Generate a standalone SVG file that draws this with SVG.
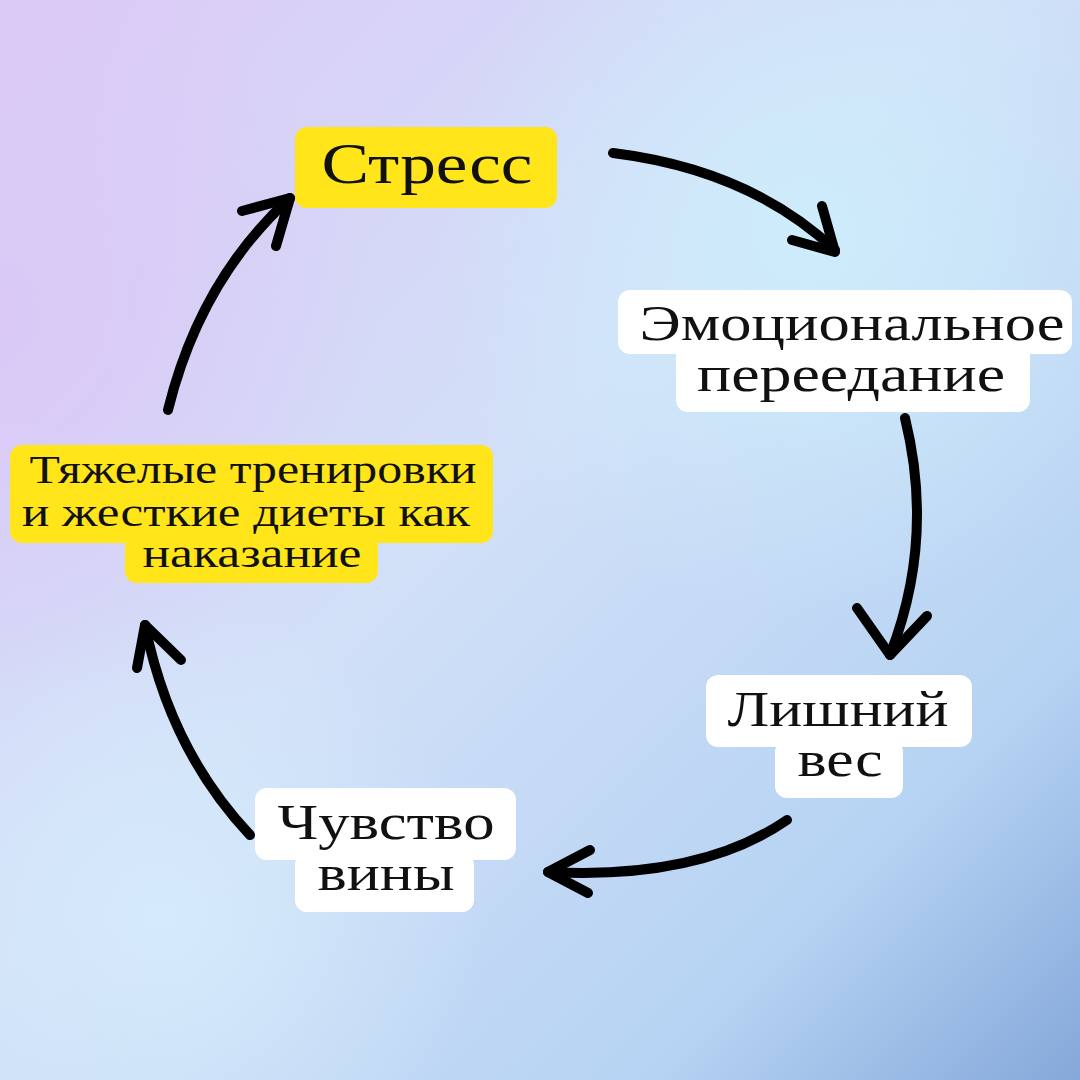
<svg xmlns="http://www.w3.org/2000/svg" width="1080" height="1080" viewBox="0 0 1080 1080">
<defs>
<linearGradient id="bg" x1="0" y1="0" x2="1" y2="1">
<stop offset="0" stop-color="#dcc9f6"/><stop offset="0.45" stop-color="#d2e0f8"/><stop offset="0.8" stop-color="#b6d3f3"/><stop offset="1" stop-color="#85a8da"/>
</linearGradient>
<radialGradient id="g1" cx="0.75" cy="0.22" r="0.35"><stop offset="0" stop-color="#cdeefb" stop-opacity="0.9"/><stop offset="1" stop-color="#cdeefb" stop-opacity="0"/></radialGradient>
<radialGradient id="g2" cx="0.15" cy="0.85" r="0.3"><stop offset="0" stop-color="#d6ecfb" stop-opacity="0.9"/><stop offset="1" stop-color="#d6ecfb" stop-opacity="0"/></radialGradient>
<radialGradient id="g3" cx="0.0" cy="0.3" r="0.35"><stop offset="0" stop-color="#dac8f6" stop-opacity="0.9"/><stop offset="1" stop-color="#dac8f6" stop-opacity="0"/></radialGradient>
</defs>
<style>
.y{fill:#ffe51a}.w{fill:#fff}
text{font-family:"Liberation Serif","DejaVu Serif",serif;fill:#111;text-anchor:middle}
.a{fill:none;stroke:#000;stroke-width:10;stroke-linecap:round;stroke-linejoin:round}
</style>
<rect width="1080" height="1080" fill="url(#bg)"/>
<rect width="1080" height="1080" fill="url(#g1)"/>
<rect width="1080" height="1080" fill="url(#g2)"/>
<rect width="1080" height="1080" fill="url(#g3)"/>
<g id="stress"><rect class="y" x="295" y="127" width="262" height="81" rx="12"/><text x="427" y="183" font-size="58" textLength="211" lengthAdjust="spacingAndGlyphs">Стресс</text></g>
<g id="overeat"><rect class="w" x="618" y="290" width="454" height="64" rx="12"/><rect class="w" x="676" y="345" width="354" height="67" rx="12"/>
<text x="852" y="340" font-size="50" textLength="425" lengthAdjust="spacingAndGlyphs">Эмоциональное</text><text x="851" y="391" font-size="50" textLength="308" lengthAdjust="spacingAndGlyphs">переедание</text></g>
<g id="weight"><rect class="w" x="706" y="675" width="266" height="72" rx="12"/><rect class="w" x="775" y="740" width="128" height="58" rx="12"/>
<text x="838" y="726" font-size="50" textLength="221" lengthAdjust="spacingAndGlyphs">Лишний</text><text x="840" y="776" font-size="50" textLength="85" lengthAdjust="spacingAndGlyphs">вес</text></g>
<g id="guilt"><rect class="w" x="255" y="788" width="261" height="72" rx="12"/><rect class="w" x="295" y="853" width="179" height="59" rx="12"/>
<text x="386" y="839" font-size="50" textLength="217" lengthAdjust="spacingAndGlyphs">Чувство</text><text x="386" y="890" font-size="50" textLength="137" lengthAdjust="spacingAndGlyphs">вины</text></g>
<g id="punish"><rect class="y" x="10" y="445" width="483" height="98" rx="12"/><rect class="y" x="125" y="535" width="253" height="48" rx="12"/>
<text x="253" y="483" font-size="40" textLength="447" lengthAdjust="spacingAndGlyphs">Тяжелые тренировки</text><text x="246" y="526" font-size="40" textLength="448" lengthAdjust="spacingAndGlyphs">и жесткие диеты как</text><text x="252" y="567" font-size="40" textLength="219" lengthAdjust="spacingAndGlyphs">наказание</text></g>
<g id="connectors">
<path class="a" d="M613,153 Q750,170 835,250"/><path class="a" d="M792,240 L835,252 L822,206"/>
<path class="a" d="M905,418 Q935,540 890,655"/><path class="a" d="M857,608 L890,655 L927,616"/>
<path class="a" d="M787,820 Q700,880 548,872"/><path class="a" d="M590,850 L548,872 L588,893"/>
<path class="a" d="M250,835 Q170,750 145,625"/><path class="a" d="M137,668 L145,625 L181,660"/>
<path class="a" d="M168,410 Q200,280 290,198"/><path class="a" d="M242,211 L290,198 L276,246"/>
</g>
</svg>
